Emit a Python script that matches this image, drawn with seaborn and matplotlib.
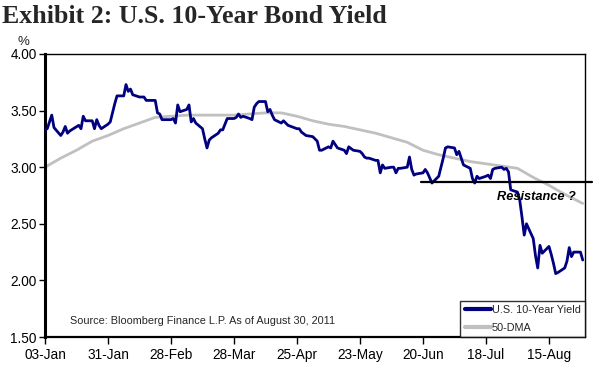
import matplotlib
matplotlib.use("Agg")
import matplotlib.pyplot as plt
import matplotlib.dates as mdates
import seaborn as sns
import pandas as pd

# U.S. 10-year yield
yield_dates = [
    "2011-01-03", "2011-01-04", "2011-01-06", "2011-01-07", "2011-01-10", "2011-01-11",
    "2011-01-12", "2011-01-13", "2011-01-14", "2011-01-18", "2011-01-19", "2011-01-20",
    "2011-01-21", "2011-01-24", "2011-01-25", "2011-01-26", "2011-01-27", "2011-01-28",
    "2011-01-31", "2011-02-01", "2011-02-02", "2011-02-03", "2011-02-04", "2011-02-07",
    "2011-02-08", "2011-02-09", "2011-02-10", "2011-02-11", "2011-02-14", "2011-02-16",
    "2011-02-17", "2011-02-21", "2011-02-22", "2011-02-23", "2011-02-24", "2011-02-28",
    "2011-03-01", "2011-03-02", "2011-03-03", "2011-03-04", "2011-03-07", "2011-03-08",
    "2011-03-09", "2011-03-10", "2011-03-11", "2011-03-14", "2011-03-15", "2011-03-16",
    "2011-03-17", "2011-03-18", "2011-03-21", "2011-03-22", "2011-03-23", "2011-03-24",
    "2011-03-25", "2011-03-28", "2011-03-29", "2011-03-30", "2011-03-31", "2011-04-01",
    "2011-04-04", "2011-04-05", "2011-04-06", "2011-04-07", "2011-04-08", "2011-04-11",
    "2011-04-12", "2011-04-13", "2011-04-14", "2011-04-15", "2011-04-18", "2011-04-19",
    "2011-04-21", "2011-04-25", "2011-04-26", "2011-04-27", "2011-04-29", "2011-05-02",
    "2011-05-04", "2011-05-05", "2011-05-06", "2011-05-09", "2011-05-10", "2011-05-11",
    "2011-05-13", "2011-05-16", "2011-05-17", "2011-05-18", "2011-05-20", "2011-05-23",
    "2011-05-24", "2011-05-25", "2011-05-26", "2011-05-27", "2011-05-30", "2011-05-31",
    "2011-06-01", "2011-06-02", "2011-06-03", "2011-06-06", "2011-06-07", "2011-06-08",
    "2011-06-09", "2011-06-10", "2011-06-13", "2011-06-14", "2011-06-15", "2011-06-16",
    "2011-06-17", "2011-06-20", "2011-06-21", "2011-06-22", "2011-06-24", "2011-06-27",
    "2011-06-29", "2011-06-30", "2011-07-01", "2011-07-04", "2011-07-05", "2011-07-06",
    "2011-07-07", "2011-07-08", "2011-07-11", "2011-07-12", "2011-07-13", "2011-07-14",
    "2011-07-15", "2011-07-18", "2011-07-19", "2011-07-20", "2011-07-21", "2011-07-22",
    "2011-07-25", "2011-07-26", "2011-07-27", "2011-07-28", "2011-07-29", "2011-08-01",
    "2011-08-02", "2011-08-03", "2011-08-04", "2011-08-05", "2011-08-08", "2011-08-09",
    "2011-08-10", "2011-08-11", "2011-08-12", "2011-08-15", "2011-08-16", "2011-08-17",
    "2011-08-18", "2011-08-19", "2011-08-22", "2011-08-23", "2011-08-24", "2011-08-25",
    "2011-08-26", "2011-08-29", "2011-08-30",
]
yield_values = [
    3.33, 3.34, 3.46, 3.35, 3.28, 3.31,
    3.36, 3.30, 3.32, 3.37, 3.34, 3.45,
    3.41, 3.41, 3.34, 3.42, 3.37, 3.34,
    3.38, 3.40, 3.48, 3.56, 3.63, 3.63,
    3.73, 3.67, 3.69, 3.64, 3.62, 3.62,
    3.59, 3.59, 3.48, 3.47, 3.42, 3.42,
    3.43, 3.39, 3.55, 3.49, 3.51, 3.55,
    3.40, 3.43, 3.39, 3.34, 3.25, 3.17,
    3.24, 3.26, 3.30, 3.33, 3.33, 3.38,
    3.43, 3.43, 3.44, 3.47, 3.44, 3.45,
    3.43, 3.42, 3.53, 3.56, 3.58, 3.58,
    3.49, 3.51, 3.46, 3.42, 3.39, 3.41,
    3.37, 3.34, 3.34, 3.31, 3.28, 3.27,
    3.23, 3.15, 3.15, 3.18, 3.17, 3.23,
    3.17, 3.15, 3.12, 3.18, 3.15, 3.14,
    3.12, 3.09, 3.08, 3.08, 3.06, 3.06,
    2.95, 3.02, 2.99, 3.00, 3.00, 2.95,
    2.99, 2.99, 3.00, 3.09, 2.98, 2.93,
    2.94, 2.95, 2.98, 2.95, 2.86, 2.92,
    3.08, 3.17, 3.18, 3.17, 3.11, 3.14,
    3.08, 3.02, 2.99, 2.90, 2.86, 2.92,
    2.90, 2.92, 2.93, 2.90, 2.98, 2.99,
    3.00, 2.98, 2.99, 2.96, 2.80, 2.78,
    2.71, 2.56, 2.40, 2.50, 2.37, 2.22,
    2.11, 2.31, 2.24, 2.30, 2.23, 2.15,
    2.06, 2.07, 2.11, 2.17, 2.29, 2.21,
    2.25, 2.25, 2.18,
]

# 50-day moving average
dma_dates = [
    "2011-01-03", "2011-01-10", "2011-01-17", "2011-01-24", "2011-01-31", "2011-02-07",
    "2011-02-14", "2011-02-21", "2011-02-28", "2011-03-07", "2011-03-14", "2011-03-21",
    "2011-03-28", "2011-04-04", "2011-04-11", "2011-04-18", "2011-04-25", "2011-05-02",
    "2011-05-09", "2011-05-16", "2011-05-23", "2011-05-30", "2011-06-06", "2011-06-13",
    "2011-06-20", "2011-06-27", "2011-07-04", "2011-07-11", "2011-07-18", "2011-07-25",
    "2011-08-01", "2011-08-08", "2011-08-15", "2011-08-22", "2011-08-30",
]
dma_values = [
    3.00, 3.08, 3.15, 3.23, 3.28, 3.34,
    3.39, 3.44, 3.45, 3.46, 3.46, 3.46,
    3.46, 3.47, 3.48, 3.48, 3.45, 3.41,
    3.38, 3.36, 3.33, 3.30, 3.26, 3.22,
    3.15, 3.11, 3.08, 3.05, 3.03, 3.01,
    2.99, 2.91, 2.84, 2.76, 2.68,
]

tick_dates = ["2011-01-03", "2011-01-31", "2011-02-28", "2011-03-28", "2011-04-25",
              "2011-05-23", "2011-06-20", "2011-07-18", "2011-08-15"]
y_ticks = [1.50, 2.00, 2.50, 3.00, 3.50, 4.00]

resistance_level = 2.87
resistance_span = ["2011-06-19", "2011-09-03"]

df_yield = pd.DataFrame({"date": pd.to_datetime(yield_dates), "value": yield_values})
df_dma = pd.DataFrame({"date": pd.to_datetime(dma_dates), "value": dma_values})

sns.set_style("white")
plt.rcParams["font.family"] = ["Liberation Sans", "DejaVu Sans"]

fig = plt.figure(figsize=(5.96, 3.76), dpi=100)
ax = fig.add_axes([0.0755, 0.1037, 0.906, 0.7527])

sns.lineplot(data=df_dma, x="date", y="value", ax=ax, color="#C0C0C0",
             linewidth=2.0, label="50-DMA", zorder=2)
sns.lineplot(data=df_yield, x="date", y="value", ax=ax, color="#000080",
             linewidth=2.0, label="U.S. 10-Year Yield", zorder=3)

ax.plot(pd.to_datetime(resistance_span), [resistance_level] * 2, color="black",
        linewidth=1.6, clip_on=False, zorder=4)
ax.text(pd.Timestamp("2011-08-27"), 2.74, "Resistance ?", ha="right", va="center",
        fontsize=9.2, fontweight="bold", fontstyle="italic", color="black")

ax.set_xlim(pd.Timestamp("2011-01-03"), pd.Timestamp("2011-08-31"))
ax.set_ylim(1.5, 4.0)
ax.set_xticks(pd.to_datetime(tick_dates))
ax.xaxis.set_major_formatter(mdates.DateFormatter("%d-%b"))
ax.set_yticks(y_ticks)
ax.set_yticklabels([f"{v:.2f}" for v in y_ticks])
ax.set_xlabel("")
ax.set_ylabel("")

for side, lw in [("left", 2.2), ("bottom", 1.6), ("top", 1.0), ("right", 1.0)]:
    ax.spines[side].set_visible(True)
    ax.spines[side].set_color("black")
    ax.spines[side].set_linewidth(lw)

ax.tick_params(axis="both", which="major", labelsize=9.8, colors="black",
               direction="out", width=1, bottom=True, left=True)
ax.tick_params(axis="x", length=5, pad=3)
ax.tick_params(axis="y", length=4, pad=2)

handles, labels = ax.get_legend_handles_labels()
leg = ax.legend(handles[::-1], labels[::-1], loc="lower right", fontsize=7.8,
                frameon=True, fancybox=False, borderaxespad=0, handlelength=2.4,
                handletextpad=0.1, labelspacing=0.7, borderpad=0.4)
leg.get_frame().set_edgecolor("black")
leg.get_frame().set_linewidth(1.0)
for line in leg.get_lines():
    line.set_linewidth(3)

ax.text(0.046, 0.057, "Source: Bloomberg Finance L.P. As of August 30, 2011",
        transform=ax.transAxes, fontsize=7.8, va="center", ha="left")

fig.text(0.039, 0.887, "%", fontsize=9.5, ha="center", va="center")
fig.text(0.004, 0.988, "Exhibit 2: U.S. 10-Year Bond Yield", fontsize=18.6,
         fontweight="bold", family=["Liberation Serif", "DejaVu Serif"],
         ha="left", va="top")

fig.savefig("out.png", dpi=100)
